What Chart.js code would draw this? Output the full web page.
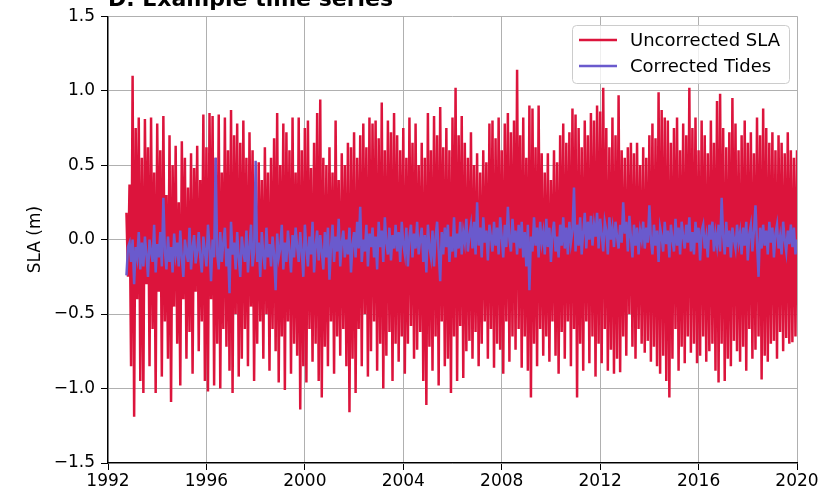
<!DOCTYPE html>
<html>
<head>
<meta charset="utf-8">
<script src="https://cdn.jsdelivr.net/npm/chart.js@4"></script>
<style>
  html, body { margin: 0; padding: 0; background: #fff; }
  #wrap { width: 825px; height: 494px; }
</style>
</head>
<body>
<div id="wrap"><canvas id="chart" width="825" height="494"></canvas></div>
<script>
// sampling of the series (decimal years)
const startYear = 1992.75;
const stepYears = 1 / 16;

// SLA without tide correction (m), one row per year from startYear
const uncorrectedSla = [
  0.18, -0.25, 0.37, -0.85, 1.10, -1.19, 0.75, -0.40, 0.82, -0.95, 0.55, -1.03, 0.81, -0.30, 0.62, -0.85,
  0.82, -0.60, 0.45, -1.03, 0.78, -0.35, 0.60, -0.92, 0.83, -0.55, 0.30, -0.80, 0.70, -1.09, 0.50, -0.45,
  0.63, -0.70, 0.25, -0.98, 0.66, -0.40, 0.55, -0.80, 0.35, -0.62, 0.58, -0.90, 0.48, -0.35, 0.63, -0.75,
  0.40, -0.55, 0.84, -0.95, 0.62, -1.02, 0.85, -0.40, 0.83, -0.98, 0.55, -0.70, 0.84, -1.00, 0.45, -0.60,
  0.82, -0.72, 0.60, -0.88, 0.87, -1.03, 0.70, -0.50, 0.78, -0.92, 0.65, -0.80, 0.80, -0.60, 0.55, -0.85,
  0.72, -0.45, 0.60, -0.95, 0.35, -0.70, 0.52, -0.55, 0.40, -0.80, 0.62, -0.50, 0.45, -0.88, 0.55, -0.60,
  0.68, -0.75, 0.85, -0.96, 0.50, -0.65, 0.78, -1.01, 0.72, -0.55, 0.60, -0.90, 0.82, -0.70, 0.45, -0.78,
  0.82, -1.14, 0.60, -0.85, 0.75, -0.96, 0.80, -0.60, 0.48, -0.82, 0.65, -0.70, 0.85, -0.95, 0.94, -1.06,
  0.55, -0.72, 0.50, -0.85, 0.62, -0.55, 0.45, -0.90, 0.80, -0.65, 0.40, -0.78, 0.58, -0.60, 0.50, -0.85,
  0.65, -1.16, 0.62, -0.80, 0.72, -1.03, 0.55, -0.60, 0.70, -0.85, 0.78, -0.50, 0.62, -0.92, 0.82, -0.75,
  0.78, -0.55, 0.80, -0.88, 0.68, -0.70, 0.92, -1.00, 0.60, -0.78, 0.80, -0.62, 0.72, -0.95, 0.85, -0.70,
  0.70, -0.82, 0.60, -0.65, 0.75, -0.90, 0.55, -0.70, 0.82, -0.58, 0.65, -0.80, 0.78, -0.74, 0.50, -0.62,
  0.65, -0.95, 0.55, -1.11, 0.85, -0.72, 0.60, -0.88, 0.83, -0.65, 0.70, -0.98, 0.89, -0.55, 0.62, -0.85,
  0.75, -0.80, 0.60, -1.03, 0.82, -0.65, 1.02, -0.95, 0.70, -0.58, 0.83, -0.93, 0.65, -0.75, 0.55, -0.68,
  0.72, -0.80, 0.50, -0.62, 0.58, -0.85, 0.45, -0.70, 0.60, -0.55, 0.52, -0.80, 0.78, -0.60, 0.80, -0.86,
  0.68, -0.70, 0.82, -0.74, 0.60, -0.90, 0.78, -0.55, 0.85, -0.82, 0.72, -0.65, 0.80, -0.74, 1.14, -0.60,
  0.70, -0.86, 0.82, -0.65, 0.55, -0.88, 0.90, -1.06, 0.88, -0.70, 0.62, -0.85, 0.90, -0.60, 0.58, -0.78,
  0.45, -0.65, 0.58, -0.82, 0.40, -0.55, 0.60, -0.78, 0.52, -0.90, 0.70, -0.62, 0.78, -0.80, 0.65, -0.55,
  0.72, -0.85, 0.88, -0.60, 0.84, -1.06, 0.75, -0.70, 0.62, -0.88, 0.80, -0.55, 0.70, -0.83, 0.85, -0.65,
  0.80, -0.92, 0.90, -0.70, 0.86, -0.83, 1.02, -0.60, 0.75, -0.88, 0.62, -0.74, 0.82, -0.90, 0.70, -0.80,
  0.97, -0.89, 0.60, -0.65, 0.55, -0.78, 0.62, -0.50, 0.65, -0.72, 0.58, -0.80, 0.65, -0.60, 0.50, -0.70,
  0.62, -0.76, 0.55, -0.68, 0.70, -0.82, 0.78, -0.72, 0.68, -0.85, 0.99, -0.90, 0.87, -0.78, 0.82, -0.95,
  0.80, -1.06, 0.65, -0.80, 0.75, -0.60, 0.82, -0.88, 0.60, -0.72, 0.78, -0.83, 0.70, -0.65, 1.02, -0.76,
  0.75, -0.70, 0.82, -0.83, 0.60, -0.78, 0.80, -0.65, 0.70, -0.82, 0.58, -0.75, 0.80, -0.70, 0.65, -0.88,
  0.93, -0.96, 0.98, -0.70, 0.75, -0.95, 0.62, -0.80, 0.72, -0.85, 0.95, -0.68, 0.78, -0.75, 0.60, -0.82,
  0.70, -0.72, 0.80, -0.88, 0.65, -0.60, 0.72, -0.80, 0.58, -0.74, 0.82, -0.65, 0.70, -0.94, 0.88, -0.78,
  0.75, -0.82, 0.65, -0.70, 0.72, -0.68, 0.60, -0.80, 0.70, -0.62, 0.65, -0.75, 0.58, -0.66, 0.72, -0.70,
  0.60, -0.69, 0.55, -0.65, 0.60
];

// SLA after tide correction (m), same sampling
const correctedTides = [
  -0.24, -0.05, -0.02, -0.15, 0.00, -0.30, -0.05, -0.12, 0.05, -0.20, -0.02, -0.18, 0.02, -0.10, -0.25, 0.00,
  -0.08, -0.15, 0.10, -0.22, -0.03, -0.12, 0.05, -0.18, 0.28, -0.08, -0.20, 0.02, -0.15, -0.05, -0.22, 0.04,
  -0.10, -0.02, -0.18, 0.06, -0.12, -0.25, 0.00, -0.08, -0.15, 0.08, -0.20, -0.05, 0.03, -0.16, -0.08, 0.05,
  -0.12, -0.22, 0.02, -0.08, -0.18, 0.10, -0.05, -0.28, 0.00, -0.12, 0.55, -0.10, -0.20, 0.05, -0.15, -0.02,
  0.08, -0.18, -0.06, -0.36, 0.12, -0.10, -0.02, -0.20, 0.05, -0.12, -0.25, 0.02, -0.08, -0.15, 0.06, -0.22,
  -0.05, 0.10, -0.18, -0.08, 0.53, -0.15, -0.02, -0.25, 0.05, -0.10, -0.20, 0.08, -0.12, -0.03, -0.18, 0.02,
  -0.10, -0.34, 0.04, -0.12, -0.06, 0.10, -0.20, -0.02, -0.15, 0.06, -0.08, -0.22, 0.03, -0.12, 0.08, -0.05,
  -0.15, 0.05, -0.08, -0.25, 0.10, -0.05, -0.18, 0.02, -0.10, 0.12, -0.22, -0.04, 0.06, -0.14, 0.03, -0.08,
  -0.20, 0.05, -0.12, 0.08, -0.27, -0.05, 0.10, -0.15, 0.02, -0.08, 0.14, -0.18, -0.02, 0.06, -0.12, 0.00,
  -0.10, 0.08, -0.22, -0.03, 0.05, -0.12, 0.12, -0.06, 0.22, -0.15, 0.00, -0.08, 0.10, -0.18, 0.04, -0.05,
  0.08, -0.12, 0.02, -0.20, 0.12, -0.05, 0.06, -0.15, 0.15, -0.02, -0.10, 0.08, -0.14, 0.03, -0.06, 0.10,
  -0.08, 0.05, -0.15, 0.12, -0.03, -0.10, 0.08, -0.18, 0.02, 0.10, -0.12, 0.04, -0.06, 0.12, -0.10, 0.00,
  0.08, -0.15, 0.03, -0.22, 0.10, -0.05, -0.12, 0.06, -0.18, 0.02, 0.12, -0.08, -0.28, 0.05, -0.10, 0.08,
  -0.05, 0.10, -0.15, 0.02, -0.08, 0.15, -0.12, 0.04, -0.06, 0.12, -0.10, 0.05, -0.02, 0.14, -0.08, 0.03,
  0.10, -0.06, 0.12, -0.10, 0.25, -0.04, 0.08, -0.12, 0.15, -0.02, 0.06, -0.14, 0.10, 0.02, -0.08, 0.12,
  -0.04, 0.08, -0.10, 0.15, 0.02, -0.12, 0.10, -0.05, 0.22, 0.00, -0.08, 0.14, -0.02, 0.06, -0.10, 0.10,
  -0.06, 0.12, -0.12, 0.05, -0.18, 0.10, -0.34, 0.02, -0.08, 0.15, -0.04, 0.08, -0.12, 0.12, -0.02, 0.05,
  -0.10, 0.14, -0.05, 0.08, -0.15, 0.04, 0.12, -0.08, 0.02, -0.12, 0.10, -0.04, 0.15, -0.06, 0.08, -0.10,
  0.12, -0.02, 0.06, 0.35, -0.08, 0.10, -0.04, 0.15, -0.10, 0.05, 0.18, -0.06, 0.12, 0.00, 0.16, -0.04,
  0.10, 0.02, 0.18, -0.06, 0.14, 0.04, -0.08, 0.12, 0.06, -0.10, 0.15, 0.00, 0.08, -0.05, 0.12, 0.02,
  -0.06, 0.10, -0.02, 0.25, 0.04, 0.12, -0.08, 0.16, 0.02, -0.12, 0.10, -0.04, 0.08, -0.10, 0.06, 0.00,
  0.12, -0.06, 0.08, -0.02, 0.23, 0.00, -0.10, 0.10, -0.04, 0.06, -0.15, 0.08, 0.02, -0.08, 0.12, -0.03,
  0.06, -0.12, 0.10, 0.00, -0.08, 0.14, -0.04, 0.08, -0.10, 0.12, 0.02, -0.06, 0.10, -0.02, 0.15, -0.08,
  0.05, -0.10, 0.12, -0.02, 0.08, -0.14, 0.06, 0.10, -0.06, 0.02, -0.12, 0.10, 0.00, 0.12, -0.08, 0.04,
  -0.04, 0.10, -0.08, 0.28, 0.02, -0.10, 0.12, -0.05, 0.06, -0.12, 0.08, 0.00, -0.06, 0.10, -0.02, 0.05,
  -0.10, 0.08, -0.04, 0.12, -0.14, 0.04, 0.10, -0.08, 0.06, 0.23, -0.02, -0.25, 0.08, -0.06, 0.10, -0.04,
  0.06, -0.10, 0.12, -0.02, 0.08, -0.12, 0.04, 0.10, -0.06, 0.02, -0.10, 0.12, 0.00, -0.08, 0.06, -0.03,
  0.10, -0.05, 0.08, -0.10, 0.00
];

const seriesNames = ["Uncorrected SLA", "Corrected Tides"];
const seriesColors = ["#dc143c", "#6a5acd"];
const xTickYears = [1992, 1996, 2000, 2004, 2008, 2012, 2016, 2020];
const yTicks = [-1.5, -1.0, -0.5, 0.0, 0.5, 1.0, 1.5];
const titleText = "D. Example time series";

const toPoints = vals => vals.map((v, i) => ({ x: startYear + i * stepYears, y: v }));
const fontFam = "'DejaVu Sans', sans-serif";

// title sits above the plot, partly cut by the top edge
const titlePlugin = {
  id: "cutTitle",
  afterDraw(c) {
    const ctx = c.ctx;
    ctx.save();
    ctx.fillStyle = "#000";
    ctx.font = "bold 22px " + fontFam;
    ctx.textBaseline = "alphabetic";
    ctx.textAlign = "left";
    ctx.fillText(titleText, c.chartArea.left, 6);
    ctx.restore();
  }
};

// legend box inside the top right corner of the axes
const boxLegend = {
  id: "boxLegend",
  afterDraw(c) {
    const ctx = c.ctx;
    const x0 = 572, y0 = 25, w = 217, h = 58;
    ctx.save();
    ctx.fillStyle = "rgba(255,255,255,0.8)";
    ctx.strokeStyle = "#cccccc";
    ctx.lineWidth = 1;
    ctx.beginPath();
    ctx.roundRect(x0 + 0.5, y0 + 0.5, w, h, 4);
    ctx.fill();
    ctx.stroke();
    ctx.font = "18px " + fontFam;
    ctx.textBaseline = "middle";
    ctx.fillStyle = "#000";
    seriesNames.forEach((name, i) => {
      const ly = 40 + i * 26;
      ctx.strokeStyle = seriesColors[i];
      ctx.lineWidth = 2.5;
      ctx.beginPath();
      ctx.moveTo(579, ly);
      ctx.lineTo(617, ly);
      ctx.stroke();
      ctx.fillText(name, 630, ly + 1);
    });
    ctx.restore();
  }
};

new Chart(document.getElementById("chart"), {
  type: "line",
  data: {
    datasets: [
      {
        label: seriesNames[0],
        data: toPoints(uncorrectedSla),
        borderColor: seriesColors[0],
        borderWidth: 2.5,
        pointRadius: 0,
        tension: 0,
        order: 2
      },
      {
        label: seriesNames[1],
        data: toPoints(correctedTides),
        borderColor: seriesColors[1],
        borderWidth: 2.5,
        pointRadius: 0,
        tension: 0,
        order: 1
      }
    ]
  },
  options: {
    responsive: false,
    animation: false,
    layout: { padding: { left: 0, right: 28, top: 16, bottom: 0 } },
    plugins: {
      legend: { display: false },
      tooltip: { enabled: false }
    },
    scales: {
      x: {
        type: "linear",
        min: 1992,
        max: 2020,
        afterBuildTicks: s => { s.ticks = xTickYears.map(v => ({ value: v })); },
        afterFit: s => { s.height = 31; },
        ticks: {
          callback: v => String(v),
          color: "#000",
          font: { family: fontFam, size: 17 },
          padding: 1,
          maxRotation: 0
        },
        grid: { color: "#b0b0b0", tickColor: "#000", tickLength: 7, lineWidth: 1 },
        border: { display: true, color: "#000", width: 1.3 }
      },
      y: {
        min: -1.5,
        max: 1.5,
        afterBuildTicks: s => { s.ticks = yTicks.map(v => ({ value: v })); },
        afterFit: s => { s.width = 108; },
        ticks: {
          callback: v => (v < 0 ? "\u2212" : "") + Math.abs(v).toFixed(1),
          color: "#000",
          font: { family: fontFam, size: 17 },
          padding: 6
        },
        title: {
          display: true,
          text: "SLA (m)",
          color: "#000",
          font: { family: fontFam, size: 17 },
          padding: { top: 25, bottom: 0 }
        },
        grid: { color: "#b0b0b0", tickColor: "#000", tickLength: 7, lineWidth: 1 },
        border: { display: true, color: "#000", width: 1.3 }
      }
    }
  },
  plugins: [titlePlugin, boxLegend]
});
</script>
</body>
</html>
